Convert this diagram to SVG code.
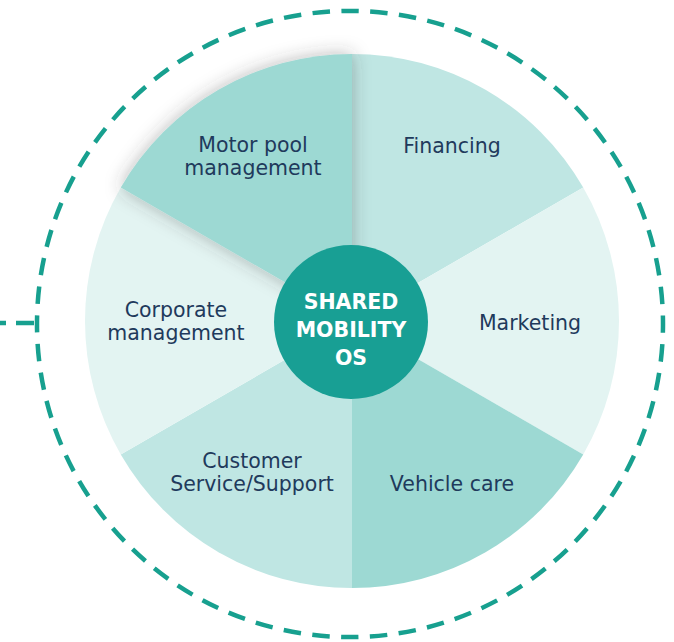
<svg xmlns="http://www.w3.org/2000/svg" width="674" height="642" viewBox="0 0 674 642">
  <style>
    .lbl { font-family: "DejaVu Sans", "Noto Sans", sans-serif; font-size: 20.5px; fill: #1f3a5c; text-anchor: middle; }
    .core { font-family: "DejaVu Sans", "Noto Sans", sans-serif; font-size: 20.5px; font-weight: bold; fill: #ffffff; text-anchor: middle; }
    .dash { fill: none; stroke: #17a08f; stroke-width: 4.5; }
    .mid { fill: #9dd9d3; }
    .light { fill: #bfe6e3; }
    .pale { fill: #e3f4f2; }
  </style>
  <defs>
    <filter id="shadow" x="-30%" y="-30%" width="160%" height="160%">
      <feGaussianBlur in="SourceAlpha" stdDeviation="9" result="b"/>
      <feFlood flood-color="#3a3a3a" flood-opacity="0.35"/>
      <feComposite in2="b" operator="in" result="s"/>
      <feMerge>
        <feMergeNode in="s"/>
        <feMergeNode in="SourceGraphic"/>
      </feMerge>
    </filter>
  </defs>
  <rect width="674" height="642" fill="#ffffff"/>

  <g id="ring">
    <path class="dash" d="M 37 324 A 313 313 0 1 1 663 324 A 313 313 0 1 1 37 324" stroke-dasharray="17.5 11.42" stroke-dashoffset="8.75"/>
  </g>

  <g id="connectors">
    <path class="dash" d="M 34 323 L 0 323" stroke-dasharray="18 10"/>
  </g>

  <g id="financing">
    <path class="light" d="M 352 321 L 352 54 A 267 267 0 0 1 583.23 187.5 Z"/>
    <text class="lbl" x="452" y="153">Financing</text>
  </g>
  <g id="marketing">
    <path class="pale" d="M 352 321 L 583.23 187.5 A 267 267 0 0 1 583.23 454.5 Z"/>
    <text class="lbl" x="530" y="330">Marketing</text>
  </g>
  <g id="vehicle-care">
    <path class="mid" d="M 352 321 L 583.23 454.5 A 267 267 0 0 1 352 588 Z"/>
    <text class="lbl" x="452" y="491">Vehicle care</text>
  </g>
  <g id="customer-service">
    <path class="light" d="M 352 321 L 352 588 A 267 267 0 0 1 120.77 454.5 Z"/>
    <text class="lbl" x="252" y="468">Customer</text>
    <text class="lbl" x="252" y="491">Service/Support</text>
  </g>
  <g id="corporate-management">
    <path class="pale" d="M 352 321 L 120.77 454.5 A 267 267 0 0 1 120.77 187.5 Z"/>
    <text class="lbl" x="176" y="317">Corporate</text>
    <text class="lbl" x="176" y="340">management</text>
  </g>
  <g id="motor-pool-management">
    <path class="mid" filter="url(#shadow)" d="M 352 321 L 120.77 187.5 A 267 267 0 0 1 352 54 Z"/>
    <text class="lbl" x="253" y="152">Motor pool</text>
    <text class="lbl" x="253" y="175">management</text>
  </g>

  <g id="shared-mobility-os">
    <circle cx="351" cy="322" r="77" fill="#189f94"/>
    <text class="core" x="351" y="309">SHARED</text>
    <text class="core" x="351" y="337">MOBILITY</text>
    <text class="core" x="351" y="365">OS</text>
  </g>
</svg>
